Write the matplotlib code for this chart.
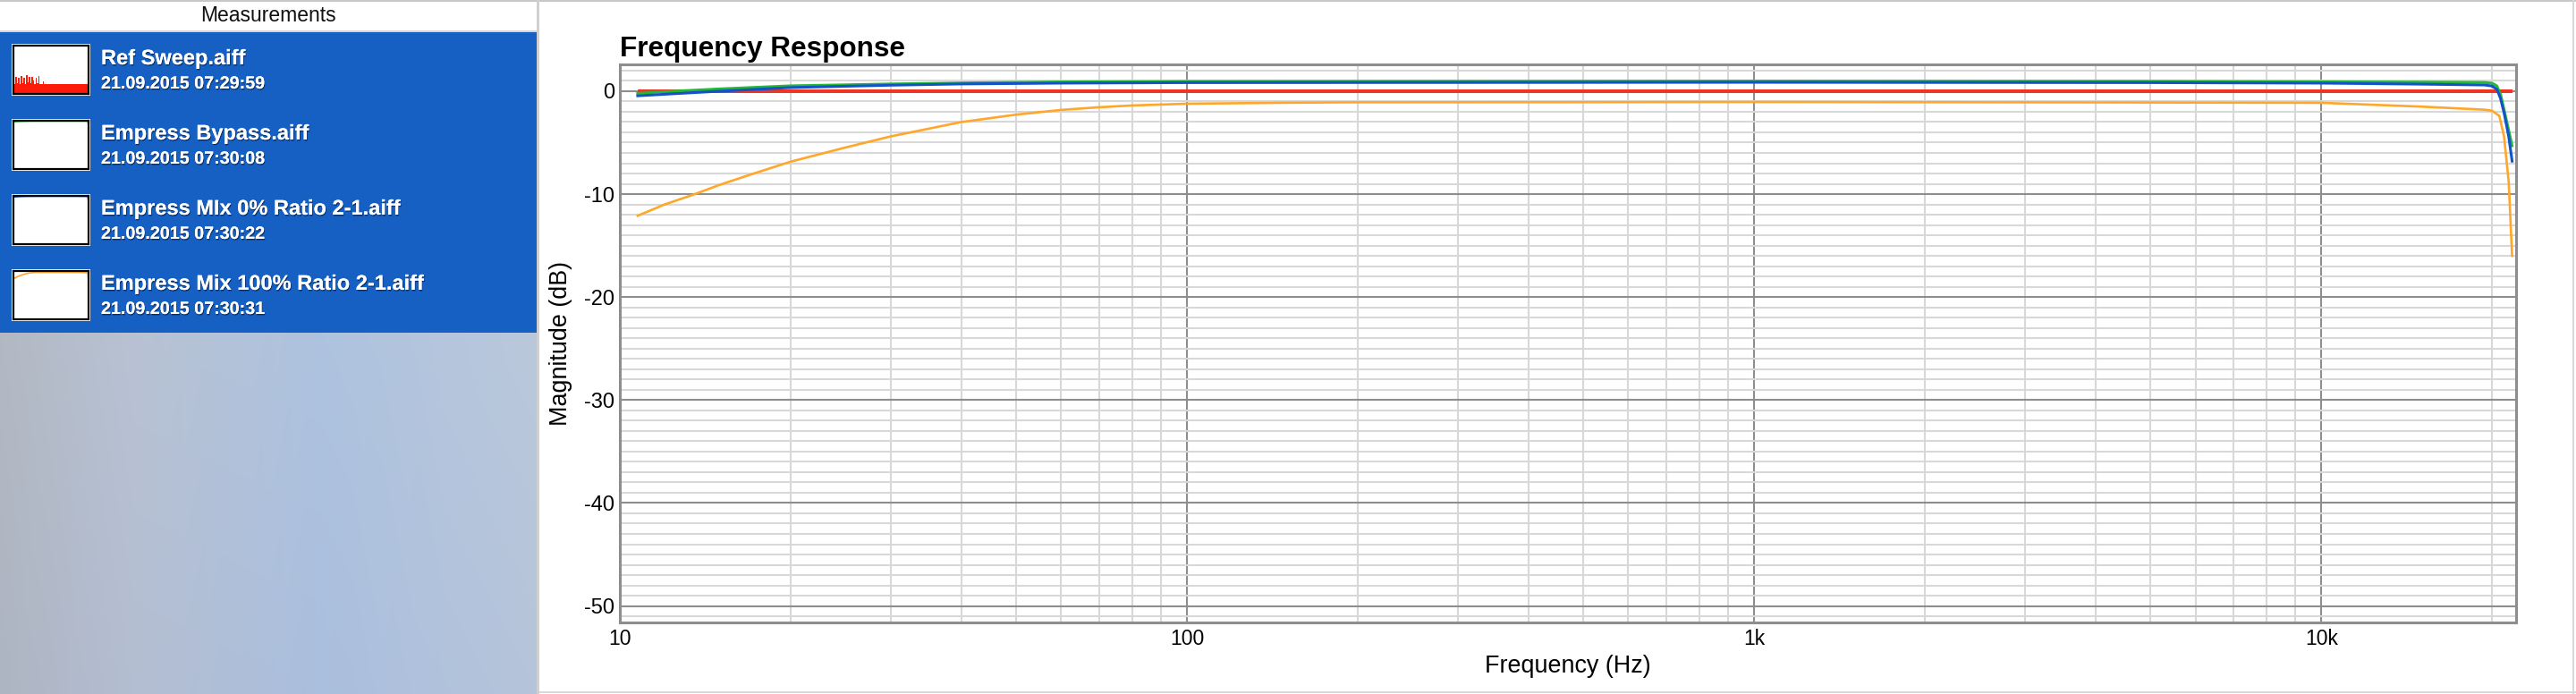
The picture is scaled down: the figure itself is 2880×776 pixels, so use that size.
import numpy as np
import matplotlib
matplotlib.use('Agg')
import matplotlib.pyplot as plt
from matplotlib.patches import Rectangle
from matplotlib.ticker import FixedLocator, LogLocator, MultipleLocator
import matplotlib.patheffects as pe

W, H = 2880, 776

# --- measured curves (Hz, dB) ---
ref_freq = [10.75, 21700]
ref_db = [0.0, 0.0]

bypass_freq = [10.75, 12, 15, 20, 30, 40, 60, 100, 1000, 5000, 10000, 15000,
               19400, 20000, 20400, 20700, 21000, 21400, 21700]
bypass_db = [-0.22, -0.05, 0.22, 0.52, 0.7, 0.8, 0.9, 0.95, 0.98, 0.96, 0.92,
             0.88, 0.85, 0.78, 0.5, -0.3, -1.8, -3.8, -5.3]

mix0_freq = [10.75, 12, 15, 20, 30, 40, 60, 100, 1000, 5000, 10000, 15000,
             19400, 20000, 20400, 20700, 21000, 21400, 21700]
mix0_db = [-0.45, -0.3, 0.0, 0.35, 0.58, 0.7, 0.78, 0.83, 0.86, 0.83, 0.78,
           0.68, 0.6, 0.5, 0.17, -0.7, -2.1, -4.4, -6.8]

mix100_freq = [10.75, 12, 13.4, 15, 17, 20, 25, 30, 35, 40, 50, 60, 70, 80,
               90, 100, 150, 200, 500, 1000, 2000, 5000, 10000, 15000, 19400,
               20000, 20600, 21000, 21400, 21700]
mix100_db = [-12.1, -11.0, -10.1, -9.1, -8.1, -6.85, -5.47, -4.4, -3.65, -3.0,
             -2.28, -1.82, -1.56, -1.39, -1.3, -1.22, -1.12, -1.08, -1.07, -1.05,
             -1.07, -1.1, -1.13, -1.5, -1.8, -1.9, -2.4, -4.4, -8.8, -16.0]

# measurement list (left panel)
names = ['Ref Sweep.aiff', 'Empress Bypass.aiff',
         'Empress MIx 0% Ratio 2-1.aiff', 'Empress Mix 100% Ratio 2-1.aiff']
dates = ['21.09.2015 07:29:59', '21.09.2015 07:30:08',
         '21.09.2015 07:30:22', '21.09.2015 07:30:31']
# ref sweep thumbnail: spiky red fill (fraction of box height)
ref_thumb_levels = [0.30, 0.21, 0.36, 0.22, 0.34, 0.2, 0.37, 0.23, 0.33, 0.21,
                    0.38, 0.24, 0.35, 0.22, 0.36, 0.27, 0.21, 0.34, 0.22, 0.37,
                    0.21, 0.2, 0.26, 0.2, 0.2, 0.2]

x_ticks = [10, 100, 1000, 10000]
x_tick_labels = ['10', '100', '1k', '10k']
y_ticks = [0, -10, -20, -30, -40, -50]
y_tick_labels = ['0', '-10', '-20', '-30', '-40', '-50']

colors = {'ref': '#EE3524', 'bypass': '#22B838', 'mix0': '#1452C8', 'mix100': '#FFA72A'}

plt.rcParams['font.family'] = ['Liberation Sans', 'DejaVu Sans']

fig = plt.figure(figsize=(W / 100, H / 100), dpi=100, facecolor='white')

# background canvas in pixel coordinates
bg = fig.add_axes([0, 0, 1, 1])
bg.set_xlim(0, W)
bg.set_ylim(H, 0)
bg.axis('off')

PANEL_W = 600
# header
bg.add_patch(Rectangle((0, 0), W, 2, color='#C8C8C8', lw=0))
bg.add_patch(Rectangle((0, 34), PANEL_W, 2, color='#D4D4D4', lw=0))
bg.text(PANEL_W / 2, 18, 'Measurements', ha='center', va='center', fontsize=16.5, color='#111111')
# blue selection area
bg.add_patch(Rectangle((0, 36), PANEL_W, 336, color='#1560C2', lw=0))
# gradient below
gx = np.linspace(0, 1, 300)
stops_x = [0.0, 0.25, 0.6, 1.0]
r = np.interp(gx, stops_x, [174, 180, 170, 182])
g = np.interp(gx, stops_x, [181, 190, 191, 196])
b = np.interp(gx, stops_x, [194, 210, 222, 218])
gy = np.linspace(0, 1, 100)[:, None]
light = 4 * (1 - gy)
grad = np.dstack([r[None, :] + light, g[None, :] + light, b[None, :] + light * 0.3]) / 255
bg.imshow(np.clip(grad, 0, 1), extent=(0, PANEL_W, H, 372), aspect='auto', zorder=0.5)
bg.add_patch(Rectangle((PANEL_W, 0), 3, H, color='#D0D0D0', lw=0, zorder=2))
bg.add_patch(Rectangle((PANEL_W, H - 3), W - PANEL_W, 2, color='#D8D8D8', lw=0))
bg.add_patch(Rectangle((W - 4, 0), 2, H, color='#D8D8D8', lw=0))

shadow = [pe.withSimplePatchShadow(offset=(0.6, -1.0), shadow_rgbFace='#0A2250', alpha=0.8), pe.Normal()]
for i, (nm, dt) in enumerate(zip(names, dates)):
    y0 = 50 + 84 * i
    bg.add_patch(Rectangle((13, y0 - 1), 88, 58, facecolor='white', edgecolor='none', zorder=3))
    bg.text(113, y0 + 22, nm, fontsize=17, color='white', va='baseline',
            weight='bold', path_effects=shadow)
    bg.text(113, y0 + 49, dt, fontsize=14.2, color='white', va='baseline',
            weight='bold', path_effects=shadow)

# thumbnails
series = [(ref_freq, ref_db, 'ref'), (bypass_freq, bypass_db, 'bypass'),
          (mix0_freq, mix0_db, 'mix0'), (mix100_freq, mix100_db, 'mix100')]
for i, (fq, db, key) in enumerate(series):
    y0 = 50 + 84 * i
    th = fig.add_axes([15 / W, 1 - (y0 + 55) / H, 84 / W, 54 / H])
    th.set_facecolor('white')
    for s in th.spines.values():
        s.set_color('black')
        s.set_linewidth(1.6)
    th.set_xticks([])
    th.set_yticks([])
    if key == 'ref':
        xs = np.linspace(0, 0.45, len(ref_thumb_levels))
        xs = np.append(xs, 1.0)
        lv = ref_thumb_levels + [ref_thumb_levels[-1]]
        th.fill_between(xs, 0, lv, color='#FF1A0A', lw=0, step='mid')
        th.set_xlim(0, 1)
        th.set_ylim(0, 1)
    else:
        th.plot(fq, db, color=colors[key], lw=1.2)
        th.set_xscale('log')
        th.set_xlim(10, 22050)
        th.set_ylim(-88, 1.6)
        th.set_xticks([])
        th.minorticks_off()

# --- main frequency response plot ---
L, R, T, B = 693, 2813, 72, 696
ax = fig.add_axes([L / W, 1 - B / H, (R - L) / W, (B - T) / H])
ax.set_facecolor('white')
ax.set_xscale('log')
ax.set_xlim(10, 22050)
ax.set_ylim(-51.6, 2.6)

ax.xaxis.set_major_locator(FixedLocator(x_ticks))
ax.set_xticklabels(x_tick_labels)
ax.xaxis.set_minor_locator(LogLocator(base=10, subs=range(2, 10)))
ax.set_yticks(y_ticks)
ax.set_yticklabels(y_tick_labels)
ax.yaxis.set_minor_locator(MultipleLocator(1))
ax.tick_params(which='both', length=0)
ax.tick_params(axis='x', which='major', labelsize=16.5, pad=5)
ax.tick_params(axis='y', which='major', labelsize=17, pad=4)
ax.tick_params(axis='x', which='minor', labelbottom=False)

ax.grid(which='minor', color='#D8D8D8', lw=1.5, zorder=0)
ax.grid(which='major', color='#8E8E8E', lw=1.5, zorder=0)
ax.set_axisbelow(True)
for s in ax.spines.values():
    s.set_color('#8E8E8E')
    s.set_linewidth(2.2)

ax.plot(ref_freq, ref_db, color=colors['ref'], lw=2.9, solid_capstyle='butt', zorder=3)
ax.plot(bypass_freq, bypass_db, color=colors['bypass'], lw=2.2, zorder=4)
ax.plot(mix0_freq, mix0_db, color=colors['mix0'], lw=2.2, zorder=5)
ax.plot(mix100_freq, mix100_db, color=colors['mix100'], lw=1.9, zorder=6)

bg.text(L, 63, 'Frequency Response', fontsize=22.7, weight='bold', va='baseline', color='black')
bg.text((L + R) / 2, 752, 'Frequency (Hz)', fontsize=19.4, ha='center', va='baseline', color='black')
bg.text(627, (T + B) / 2, 'Magnitude (dB)', fontsize=19.4, rotation=90, ha='center', va='center', color='black')

fig.savefig('out.png', dpi=100, facecolor='white')
